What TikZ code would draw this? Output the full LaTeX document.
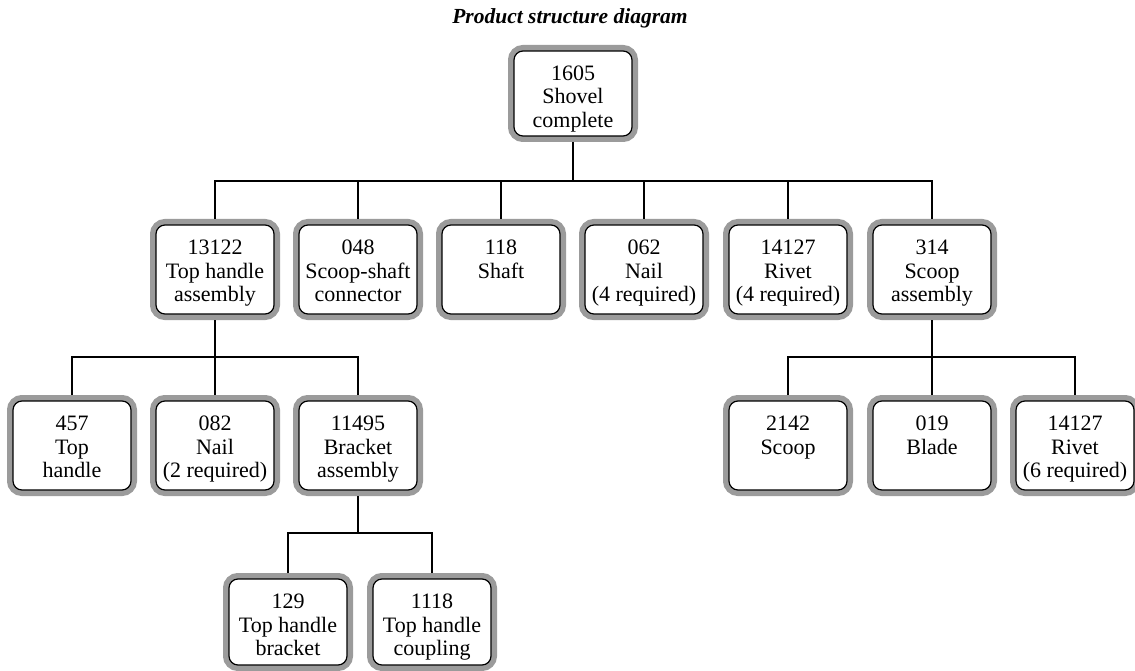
\documentclass[tikz,border=0pt]{standalone}
\usepackage{fontspec}
\setmainfont{Liberation Serif}
\definecolor{ring}{RGB}{155,155,155}
\newcommand\ptxt[2][89]{\parbox[c][#1pt][t]{118pt}{\centering\rule{0pt}{29.5pt}#2}}
\begin{document}
\begin{tikzpicture}[x=1pt,y=-1pt,
  part/.style={draw=black, line width=1.2pt, fill=white, rounded corners=9pt,
    inner sep=0pt, outer sep=6pt, preaction={draw=ring, line width=12pt},
    minimum width=118pt, minimum height=89pt,
    font=\fontsize{22}{23.5}\selectfont},
  conn/.style={line width=1.6pt, draw=black}]
\useasboundingbox (0,0) rectangle (1135,671);
\node[font=\fontsize{21.5}{23}\selectfont\bfseries\itshape] (title) at (570,18) {Product structure diagram};
% level 0
\node[part, minimum height=85pt] (top) at (573,93.5) {\ptxt[85]{1605\\Shovel\\complete}};
% level 1
\node[part] (thA) at (215,269.5) {\ptxt{13122\\Top handle\\assembly}};
\node[part] (ssc) at (358,269.5) {\ptxt{048\\Scoop-shaft\\connector}};
\node[part] (sha) at (501,269.5) {\ptxt{118\\Shaft}};
\node[part] (nl4) at (644,269.5) {\ptxt{062\\Nail\\(4 required)}};
\node[part] (rv4) at (788,269.5) {\ptxt{14127\\Rivet\\(4 required)}};
\node[part] (sca) at (932,269.5) {\ptxt{314\\Scoop\\assembly}};
% level 2
\node[part] (toh) at (72,445.5) {\ptxt{457\\Top\\handle}};
\node[part] (nl2) at (215,445.5) {\ptxt{082\\Nail\\(2 required)}};
\node[part] (bra) at (358,445.5) {\ptxt{11495\\Bracket\\assembly}};
\node[part] (scp) at (788,445.5) {\ptxt{2142\\Scoop}};
\node[part] (bld) at (932,445.5) {\ptxt{019\\Blade}};
\node[part] (rv6) at (1075,445.5) {\ptxt{14127\\Rivet\\(6 required)}};
% level 3
\node[part, minimum height=86pt] (thb) at (288,622) {\ptxt[86]{129\\Top handle\\bracket}};
\node[part, minimum height=86pt] (thc) at (432,622) {\ptxt[86]{1118\\Top handle\\coupling}};
% buses
\coordinate (b0) at (573,181);
\coordinate (b1) at (215,357);
\coordinate (b2) at (932,357);
\coordinate (b3) at (358,533);
\draw[conn] (top.south) -- (b0);
\foreach \c in {thA,ssc,sha,nl4,rv4,sca} \draw[conn] (\c.north) |- (b0);
\draw[conn] (thA.south) -- (b1);
\foreach \c in {toh,nl2,bra} \draw[conn] (\c.north) |- (b1);
\draw[conn] (sca.south) -- (b2);
\foreach \c in {scp,bld,rv6} \draw[conn] (\c.north) |- (b2);
\draw[conn] (bra.south) -- (b3);
\foreach \c in {thb,thc} \draw[conn] (\c.north) |- (b3);
\end{tikzpicture}
\end{document}
